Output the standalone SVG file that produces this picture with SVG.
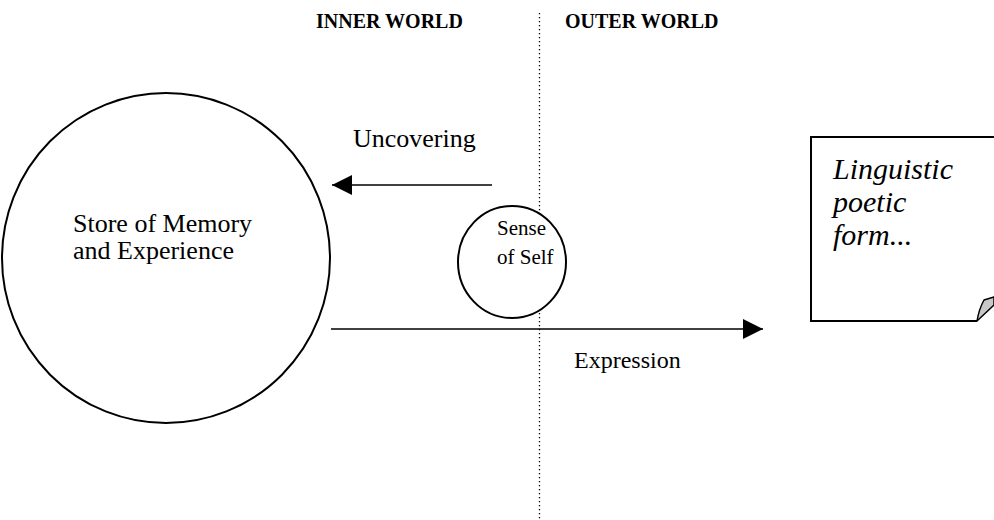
<svg xmlns="http://www.w3.org/2000/svg" width="994" height="520" viewBox="0 0 994 520">
  <style>
    .hdr { font-family: "Liberation Serif", "Times New Roman", serif; font-weight: bold; font-size: 20px; fill: #000; }
    .txt { font-family: "Liberation Serif", "Times New Roman", serif; font-size: 26px; fill: #000; }
    .ital { font-family: "Liberation Serif", "Times New Roman", serif; font-style: italic; font-size: 30px; fill: #000; }
    .shape { fill: #fff; stroke: #000; stroke-width: 2; }
    .conn { stroke: #000; stroke-width: 1.6; fill: none; }
    .divider { stroke: #000; stroke-width: 1.3; stroke-dasharray: 1.3 2.7; fill: none; }
  </style>
  <defs>
    <marker id="arrow" viewBox="0 0 20 20" refX="20" refY="10" markerWidth="20" markerHeight="20" markerUnits="userSpaceOnUse" orient="auto">
      <path d="M0,0 L20,10 L0,20 Z" fill="#000"/>
    </marker>
  </defs>
  <rect width="994" height="520" fill="#fff"/>

  <!-- boundary between the two worlds -->
  <line class="divider" x1="539.5" y1="13" x2="539.5" y2="520"/>

  <g id="headings">
    <text class="hdr" x="316" y="28">INNER WORLD</text>
    <text class="hdr" x="565" y="28">OUTER WORLD</text>
  </g>

  <g id="memory-store">
    <ellipse class="shape" cx="166" cy="258" rx="164" ry="165"/>
    <text class="txt" x="73" y="232">Store of Memory</text>
    <text class="txt" x="73" y="259">and Experience</text>
  </g>

  <g id="sense-of-self">
    <ellipse class="shape" cx="512" cy="262" rx="54" ry="56"/>
    <text class="txt" x="497" y="235" style="font-size:21px">Sense</text>
    <text class="txt" x="497" y="264" style="font-size:21px">of Self</text>
  </g>

  <g id="poetic-form">
    <path class="shape" d="M994,137 L811,137 L811,321 L977,321"/>
    <path d="M977,321 Q979,309 984,300 L994,297 L994,305 Z" fill="#c8c8c8" stroke="#000" stroke-width="1.5" stroke-linejoin="round"/>
    <text class="ital" x="833" y="179">Linguistic</text>
    <text class="ital" x="833" y="212">poetic</text>
    <text class="ital" x="833" y="245">form...</text>
  </g>

  <g id="connectors">
    <line class="conn" x1="492" y1="185" x2="332" y2="185" marker-end="url(#arrow)"/>
    <line class="conn" x1="331" y1="329" x2="763" y2="329" marker-end="url(#arrow)"/>
    <text class="txt" x="353" y="147">Uncovering</text>
    <text class="txt" x="574" y="368" style="font-size:24px">Expression</text>
  </g>
</svg>
